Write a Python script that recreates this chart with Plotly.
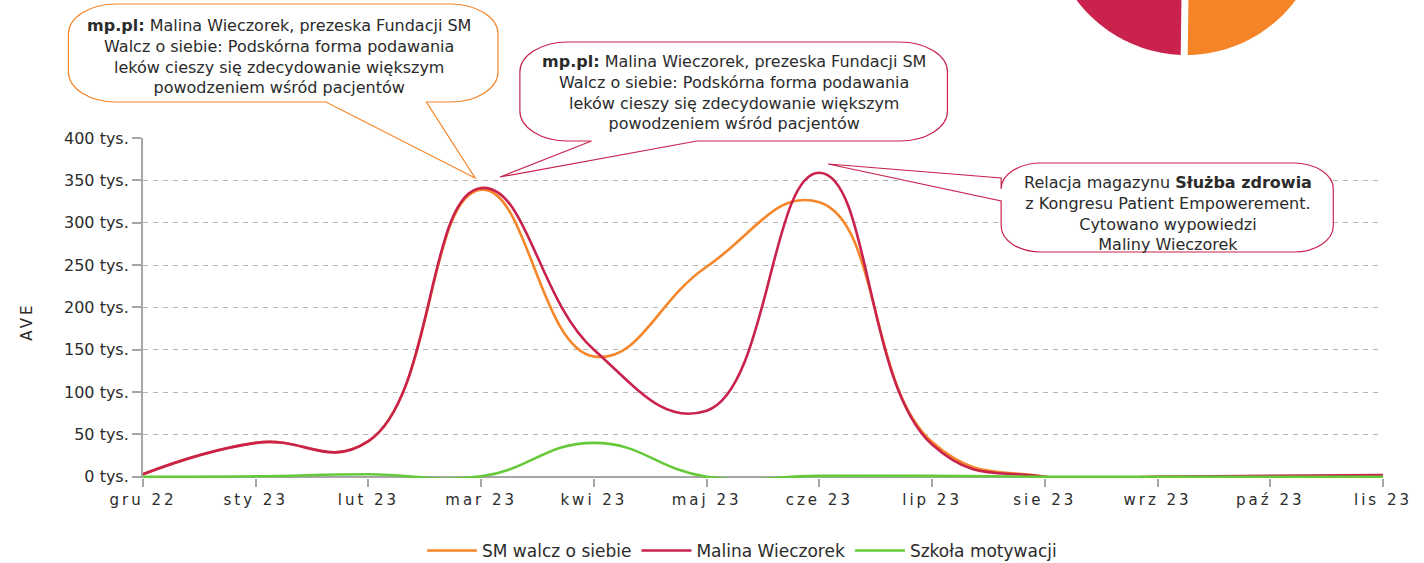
import numpy as np
import plotly.graph_objects as go

# Monthly AVE values, in thousands (tys.)
months = ["gru 22", "sty 23", "lut 23", "mar 23", "kwi 23", "maj 23",
          "cze 23", "lip 23", "sie 23", "wrz 23", "paź 23", "lis 23"]
sm_walcz = [3, 40, 42, 339, 142, 248, 324, 41, 0, 0, 0, 0]
malina = [3, 40, 42, 341, 150, 78, 359, 38, 0, 0, 1, 2]
szkola = [0, 0.5, 3, 0.5, 40, 0, 1, 1, 0, 0, 0, 0]

y_ticks = [0, 50, 100, 150, 200, 250, 300, 350, 400]
y_labels = [f"{v} tys." for v in y_ticks]

series_names = ["SM walcz o siebie", "Malina Wieczorek", "Szkoła motywacji"]
series_colors = ["#F5862A", "#C8224D", "#66C93A"]

FONT = "DejaVu Sans"
TEXT = "#2b2b2b"
GRID = "#b5b5b5"
AXIS = "#a6a6a6"

W, H = 1424, 563
ML, MR, MT, MB = 143, 34, 138, 85
PL, PR, PT, PB = ML, W - MR, MT, H - MB


def P(x, y):
    """Pixel position -> paper coordinates string."""
    xp = (x - PL) / (PR - PL)
    yp = (PB - y) / (PB - PT)
    return f"{xp:.5f},{yp:.5f}"


def bubble_path(x0, y0, x1, y1, rx, ry, apex, bottom=None, left=None):
    k = 0.5523
    s = f"M{P(x0 + rx, y0)} L{P(x1 - rx, y0)} "
    s += f"C{P(x1 - rx + k * rx, y0)} {P(x1, y0 + ry - k * ry)} {P(x1, y0 + ry)} "
    s += f"L{P(x1, y1 - ry)} "
    s += f"C{P(x1, y1 - ry + k * ry)} {P(x1 - rx + k * rx, y1)} {P(x1 - rx, y1)} "
    if bottom:
        s += f"L{P(bottom[1], y1)} L{P(*apex)} L{P(bottom[0], y1)} "
    s += f"L{P(x0 + rx, y1)} "
    s += f"C{P(x0 + rx - k * rx, y1)} {P(x0, y1 - ry + k * ry)} {P(x0, y1 - ry)} "
    if left:
        s += f"L{P(x0, left[1])} L{P(*apex)} L{P(x0, left[0])} "
    s += f"L{P(x0, y0 + ry)} "
    s += f"C{P(x0, y0 + ry - k * ry)} {P(x0 + rx - k * rx, y0)} {P(x0 + rx, y0)} Z"
    return s


def sector_path(cx, cy, r, a0, a1, n=80):
    ang = np.radians(np.linspace(a0, a1, n))
    pts = [P(cx, cy)] + [P(cx + r * np.cos(a), cy + r * np.sin(a)) for a in ang]
    return "M" + " L".join(pts) + " Z"


x_idx = list(range(len(months)))

fig = go.Figure()
for name, vals, col in zip(series_names, [sm_walcz, malina, szkola], series_colors):
    fig.add_trace(go.Scatter(
        x=x_idx, y=vals, name=name, mode="lines",
        line=dict(color=col, width=2.6, shape="spline", smoothing=1.3),
        hoverinfo="skip",
    ))

shapes = []
# pie fragment at the top right
pcx, pcy, pr = 1192, -83, 138
shapes.append(dict(type="path", xref="paper", yref="paper", layer="above",
                   path=sector_path(pcx, pcy, pr, 90.8, 200),
                   fillcolor="#C8224D", line=dict(width=0)))
shapes.append(dict(type="path", xref="paper", yref="paper", layer="above",
                   path=sector_path(pcx, pcy, pr, -20, 90.8),
                   fillcolor="#F58426", line=dict(width=0)))
gx = pcx + (pr + 5) * np.cos(np.radians(90.8))
gy = pcy + (pr + 5) * np.sin(np.radians(90.8))
shapes.append(dict(type="path", xref="paper", yref="paper", layer="above",
                   path=f"M{P(pcx, pcy)} L{P(gx, gy)}",
                   line=dict(color="white", width=7)))

# speech bubbles
shapes.append(dict(type="path", xref="paper", yref="paper", layer="above",
                   path=bubble_path(68, 4, 500, 102, 48, 30, (477, 178), bottom=(327, 428)),
                   fillcolor="white", line=dict(color="#F5862A", width=1.2)))
shapes.append(dict(type="path", xref="paper", yref="paper", layer="above",
                   path=bubble_path(522, 42, 952, 141, 48, 30, (502, 177), bottom=(594, 700)),
                   fillcolor="white", line=dict(color="#C8224D", width=1.2)))
shapes.append(dict(type="path", xref="paper", yref="paper", layer="above",
                   path=bubble_path(1006, 163, 1340, 252, 40, 26, (832, 164), left=(178, 201)),
                   fillcolor="white", line=dict(color="#C8224D", width=1.2)))


def ann(x, y, text, size=16, angle=0):
    xp = (x - PL) / (PR - PL)
    yp = (PB - y) / (PB - PT)
    return dict(x=xp, y=yp, xref="paper", yref="paper", text=text, showarrow=False,
                xanchor="center", yanchor="middle", align="center", textangle=angle,
                font=dict(family=FONT, size=size, color=TEXT))


quote = ("<b>mp.pl:</b> Malina Wieczorek, prezeska Fundacji SM<br>"
         "Walcz o siebie: Podskórna forma podawania<br>"
         "leków cieszy się zdecydowanie większym<br>"
         "powodzeniem wśród pacjentów")
annotations = [
    ann(280, 57, quote, size=16),
    ann(737, 92, quote, size=16),
    ann(1174, 213, "Relacja magazynu <b>Służba zdrowia</b><br>"
                   "z Kongresu Patient Empowerement.<br>"
                   "Cytowano wypowiedzi<br>Maliny Wieczorek", size=16),
    ann(26, 322, '<span style="letter-spacing:3px">AVE</span>', size=15, angle=-90),
]

fig.update_layout(
    width=W, height=H,
    margin=dict(l=ML, r=MR, t=MT, b=MB, pad=0),
    paper_bgcolor="white", plot_bgcolor="white",
    font=dict(family=FONT, size=15, color=TEXT),
    shapes=shapes, annotations=annotations,
    showlegend=True,
    legend=dict(orientation="h", xref="container", yref="container",
                x=422 / W, xanchor="left", y=1 - 551 / H, yanchor="middle",
                itemwidth=50,
                font=dict(family=FONT, size=17, color=TEXT),
                itemclick=False, itemdoubleclick=False),
    xaxis=dict(
        range=[0, len(months) - 1], tickmode="array", tickvals=x_idx,
        ticktext=[f'<span style="letter-spacing:3px">{m}</span>' for m in months],
        showgrid=False, zeroline=False, showline=False,
        ticks="outside", ticklen=8, tickwidth=2, tickcolor=AXIS,
        tickfont=dict(family=FONT, size=15, color=TEXT),
    ),
    yaxis=dict(
        range=[-1.5, 400], tickmode="array", tickvals=y_ticks, ticktext=y_labels,
        showgrid=True, gridcolor=GRID, gridwidth=1, griddash="5px,5px",
        zeroline=True, zerolinecolor=AXIS, zerolinewidth=2,
        showline=True, linecolor=AXIS, linewidth=2,
        ticks="outside", ticklen=9, tickwidth=2, tickcolor=AXIS,
        tickfont=dict(family=FONT, size=16, color=TEXT),
    ),
)

fig.write_html("out.html")
